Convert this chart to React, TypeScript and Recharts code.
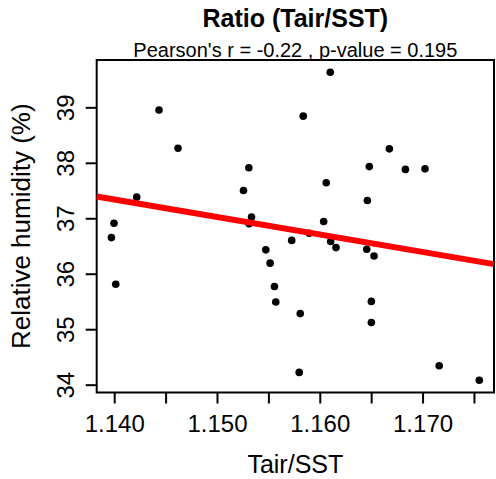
import { ScatterChart, Scatter, XAxis, YAxis, ReferenceArea } from "recharts"

// Tair/SST ratio vs relative humidity
const ratio = [
  1.14431, 1.14616, 1.15305, 1.15253, 1.14214, 1.13993, 1.15331, 1.15308,
  1.16097, 1.15834, 1.16672, 1.16477, 1.16828, 1.17019, 1.16058, 1.16458,
  1.16033, 1.13968, 1.1401, 1.1547, 1.15512, 1.15554, 1.15567, 1.15722,
  1.15893, 1.16101, 1.16153, 1.16452, 1.16523, 1.16497, 1.16497, 1.15805,
  1.15795, 1.17157, 1.17547,
]
const humidity = [
  38.96, 38.27, 37.92, 37.51, 37.39, 36.92, 37.03, 36.91,
  39.64, 38.85, 38.26, 37.94, 37.89, 37.9, 37.65, 37.33,
  36.95, 36.66, 35.82, 36.44, 36.2, 35.78, 35.5, 36.61,
  36.74, 36.59, 36.48, 36.45, 36.33, 35.51, 35.13, 35.29,
  34.23, 34.35, 34.09,
]

const xTicks = [1.14, 1.145, 1.15, 1.155, 1.16, 1.165, 1.17, 1.175]
const xTickLabels = ["1.140", "", "1.150", "", "1.160", "", "1.170", ""]
const yTicks = [34, 35, 36, 37, 38, 39]

const title = "Ratio (Tair/SST)"
const subtitle = "Pearson's r = -0.22 , p-value = 0.195"
const xLabel = "Tair/SST"
const yLabel = "Relative humidity (%)"

const points = ratio.map((x, i) => ({ x, y: humidity[i] }))

// R-style axis range: data range padded by 4% on each side
const pad = (vals: number[]): [number, number] => {
  const lo = Math.min(...vals)
  const hi = Math.max(...vals)
  const d = (hi - lo) * 0.04
  return [lo - d, hi + d]
}
const xDomain = pad(ratio)
const yDomain = pad(humidity)

// least squares fit, drawn across the whole plot like abline()
const n = ratio.length
const mx = ratio.reduce((a, b) => a + b, 0) / n
const my = humidity.reduce((a, b) => a + b, 0) / n
let sxy = 0
let sxx = 0
ratio.forEach((x, i) => {
  sxy += (x - mx) * (humidity[i] - my)
  sxx += (x - mx) * (x - mx)
})
const slope = sxy / sxx
const intercept = my - slope * mx
const fitLine = xDomain.map((x) => ({ x, y: intercept + slope * x }))

const FONT = "'Liberation Sans', Arial, sans-serif"
const W = 496
const H = 479
const plotLeft = 96.7
const plotRight = 494
const plotTop = 60
const plotBottom = 392.5
const cx = (plotLeft + plotRight) / 2
const cy = (plotTop + plotBottom) / 2

const XTick = (props: any) => {
  const idx = xTicks.indexOf(props.payload.value)
  const label = idx >= 0 ? xTickLabels[idx] : ""
  return (
    <text x={props.x} y={431.5} textAnchor="middle" fontSize={24} fontFamily={FONT} fill="#000">
      {label}
    </text>
  )
}

const YTick = (props: any) => {
  const bx = 74
  return (
    <text
      x={bx}
      y={props.y}
      transform={`rotate(-90, ${bx}, ${props.y})`}
      textAnchor="middle"
      fontSize={24}
      fontFamily={FONT}
      fill="#000"
    >
      {props.payload.value}
    </text>
  )
}

const Dot = (props: any) => <circle cx={props.cx} cy={props.cy} r={3.8} fill="#000" />

export default function App() {
  return (
    <div style={{ position: "absolute", left: 0, top: 0, width: W, height: H, background: "#fff" }}>
      <ScatterChart
        width={W}
        height={H}
        margin={{ top: plotTop, right: W - plotRight, bottom: H - plotBottom - 40, left: 0 }}
      >
        <XAxis
          type="number"
          dataKey="x"
          domain={xDomain}
          ticks={xTicks}
          interval={0}
          height={40}
          axisLine={false}
          tickLine={{ stroke: "#000", strokeWidth: 2 }}
          tickSize={11}
          tick={<XTick />}
        />
        <YAxis
          type="number"
          dataKey="y"
          domain={yDomain}
          ticks={yTicks}
          interval={0}
          width={plotLeft}
          axisLine={false}
          tickLine={{ stroke: "#000", strokeWidth: 2 }}
          tickSize={11}
          tick={<YTick />}
        />
        <Scatter data={points} fill="#000" shape={<Dot />} isAnimationActive={false} />
        <Scatter
          data={fitLine}
          line={{ stroke: "#ff0000", strokeWidth: 6 }}
          shape={() => <g />}
          isAnimationActive={false}
        />
        <ReferenceArea
          x1={xDomain[0]}
          x2={xDomain[1]}
          y1={yDomain[0]}
          y2={yDomain[1]}
          fill="none"
          stroke="#000"
          strokeWidth={2}
          ifOverflow="visible"
        />
      </ScatterChart>
      <svg
        width={W}
        height={H}
        style={{ position: "absolute", left: 0, top: 0, pointerEvents: "none" }}
      >
        <text x={cx} y={27} textAnchor="middle" fontSize={25} fontWeight="bold" fontFamily={FONT}>
          {title}
        </text>
        <text x={cx} y={57} textAnchor="middle" fontSize={20} fontFamily={FONT}>
          {subtitle}
        </text>
        <text x={cx} y={472.5} textAnchor="middle" fontSize={25} fontFamily={FONT}>
          {xLabel}
        </text>
        <text
          x={30}
          y={cy}
          transform={`rotate(-90, 30, ${cy})`}
          textAnchor="middle"
          fontSize={26}
          fontFamily={FONT}
        >
          {yLabel}
        </text>
      </svg>
    </div>
  )
}
